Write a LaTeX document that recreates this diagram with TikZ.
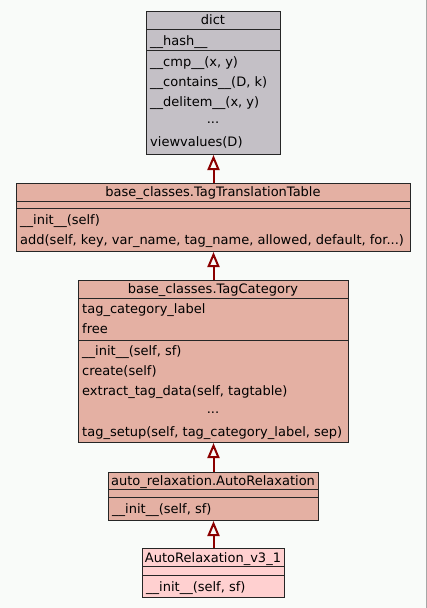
\documentclass[tikz,border=0pt]{standalone}
\usepackage{fontspec}
\usepackage{xcolor}
\usetikzlibrary{arrows.meta}
\newfontfamily\umlfont{DejaVu Sans}
\definecolor{pagebg}{RGB}{249,251,249}
\definecolor{dictgray}{RGB}{196,192,198}
\definecolor{basesalmon}{RGB}{228,176,163}
\definecolor{leafpink}{RGB}{255,208,208}
\definecolor{inheritred}{RGB}{139,0,0}
\tikzset{
    umlbox/.style = {draw=black!85, line width=1pt, rectangle, inner sep=0pt, anchor=north west},
    umlsep/.style = {draw=black!85, line width=1pt},
    umltitle/.style = {font=\umlfont\fontsize{13}{16}\selectfont, inner sep=0pt, text height=11.5pt, text depth=0.5pt},
    umltext/.style = {umltitle, anchor=west},
    inherit/.style = {draw=inheritred, line width=2pt, -{Triangle[open, length=15pt, width=12pt]}},
}
\begin{document}
\begin{tikzpicture}[x=1pt, y=-1pt]
\fill[pagebg] (0,0) rectangle (427,608);
\useasboundingbox (0,0) rectangle (427,608);
\draw[black!35, line width=1pt] (426,0) -- (426,608);

% dict
\node[umlbox, fill=dictgray, minimum width=134pt, minimum height=143pt] (dict) at (146,11) {};
\draw[umlsep] (146,29) -- (280,29);
\draw[umlsep] (146,50) -- (280,50);
\node[umltitle] (dict-title) at (213,19) {dict};
\node[umltext] (dict-hash) at (150,40) {\_\_hash\_\_};
\node[umltext] (dict-cmp) at (150,61) {\_\_cmp\_\_(x, y)};
\node[umltext] (dict-contains) at (150,81) {\_\_contains\_\_(D, k)};
\node[umltext] (dict-delitem) at (150,101) {\_\_delitem\_\_(x, y)};
\node[umltitle] (dict-dots) at (213,118) {...};
\node[umltext] (dict-viewvalues) at (150,141) {viewvalues(D)};

% base_classes.TagTranslationTable
\node[umlbox, fill=basesalmon, minimum width=394pt, minimum height=68pt] (ttt) at (16,183) {};
\draw[umlsep] (16,201) -- (410,201);
\draw[umlsep] (16,208) -- (410,208);
\node[umltitle] (ttt-title) at (213,191) {base\_classes.TagTranslationTable};
\node[umltext] (ttt-init) at (20,219) {\_\_init\_\_(self)};
\node[umltext] (ttt-add) at (20,239) {add(self, key, var\_name, tag\_name, allowed, default, for...)};

% base_classes.TagCategory
\node[umlbox, fill=basesalmon, minimum width=270pt, minimum height=162pt] (tagcat) at (78,280) {};
\draw[umlsep] (78,298) -- (348,298);
\draw[umlsep] (78,340) -- (348,340);
\node[umltitle] (tagcat-title) at (213,288) {base\_classes.TagCategory};
\node[umltext] (tagcat-label) at (82,308) {tag\_category\_label};
\node[umltext] (tagcat-free) at (82,328) {free};
\node[umltext] (tagcat-init) at (82,350) {\_\_init\_\_(self, sf)};
\node[umltext] (tagcat-create) at (82,370) {create(self)};
\node[umltext] (tagcat-extract) at (82,390) {extract\_tag\_data(self, tagtable)};
\node[umltitle] (tagcat-dots) at (213,408) {...};
\node[umltext] (tagcat-setup) at (82,431) {tag\_setup(self, tag\_category\_label, sep)};

% auto_relaxation.AutoRelaxation
\node[umlbox, fill=basesalmon, minimum width=210pt, minimum height=48pt] (autorel) at (108,472) {};
\draw[umlsep] (108,489) -- (318,489);
\draw[umlsep] (108,497) -- (318,497);
\node[umltitle] (autorel-title) at (213,480) {auto\_relaxation.AutoRelaxation};
\node[umltext] (autorel-init) at (112,508) {\_\_init\_\_(self, sf)};

% AutoRelaxation_v3_1
\node[umlbox, fill=leafpink, minimum width=142pt, minimum height=49pt] (autorelv) at (142,548) {};
\draw[umlsep] (142,566) -- (284,566);
\draw[umlsep] (142,575) -- (284,575);
\node[umltitle] (autorelv-title) at (213,557) {AutoRelaxation\_v3\_1};
\node[umltext] (autorelv-init) at (146,586) {\_\_init\_\_(self, sf)};

% inheritance
\draw[inherit] (ttt.north) -- (dict.south);
\draw[inherit] (tagcat.north) -- (ttt.south);
\draw[inherit] (autorel.north) -- (tagcat.south);
\draw[inherit] (autorelv.north) -- (autorel.south);
\end{tikzpicture}
\end{document}
